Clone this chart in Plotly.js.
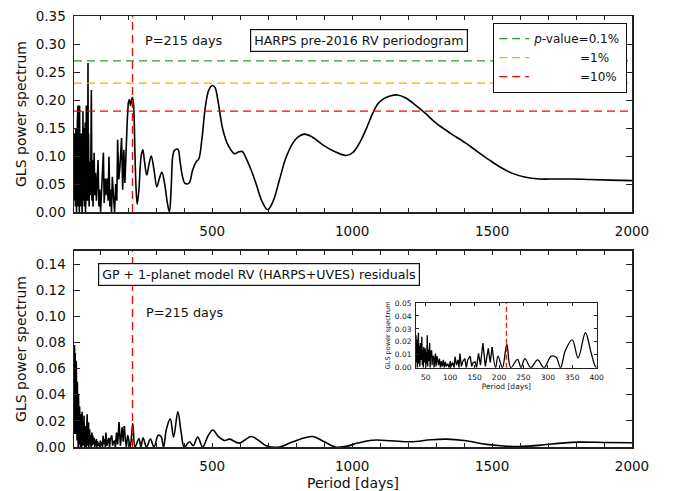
<!DOCTYPE html>
<html>
<head>
<meta charset="utf-8">
<script src="https://cdn.plot.ly/plotly-3.0.1.min.js"></script>
<style>html,body{margin:0;padding:0;background:#fff}#chart{width:673px;height:491px}</style>
</head>
<body>
<div id="chart"></div>
<script>
// ---- data ----
const periodTop = [6,7,8,9,10,11,12,13,14,15,16,17,18,19,20,21,22,23,24,25,26,27,28,29,30,31,32,33,34,35,36,37,38,39,40,41,42,43,44,45,46,47,48,49,50,51,52,53,54,55,56,57,58,
  60,62,64,66,68,70,72,74,76,78,80,83,86,89,92,95,98,101,104,108,111,114,117,120,124,128,131,134,137,140,143,147,151,155,159,162,166,170,176,180,184,188,192,196,200,204,208,211,215,219,224,228,232,238,246,252,258,266,274,282,292,302,311,320,330,340,347,353,359,365,377,385,393,401,410,419,430,443,452,463,476,488,500,510,520,538,558,580,593,607,622,639,657,677,698,718,740,762,788,807,829,857,895,937,978,1002,1026,1050,1074,1090,1109,1135,1163,1190,1216,1260,1299,1350,1406,1450,1490,1530,1573,1620,1669,1730,1788,1850,1920,2000];
const powerTop = [0.10,0.02,0.14,0.02,0.13,0.01,0.15,0.03,0.09,0.0,0.12,0.02,0.16,0.04,0.19,0.01,0.11,0.05,0.14,0.0,0.19,0.03,0.12,0.06,0.09,0.01,0.14,0.04,0.10,0.0,0.13,0.05,0.18,0.02,0.11,0.06,0.15,0.01,0.09,0.04,0.16,0.0,0.12,0.03,0.19,0.05,0.10,0.02,0.08,0.04,0.266,0.02,0.14,
  0.01,0.09,0.03,0.07,0.218,0.02,0.093,0.01,0.06,0.106,0.03,0.07,0.02,0.052,0.093,0.01,0.04,0.0,0.03,0.08,0.106,0.016,0.06,0.03,0.06,0.02,0.099,0.01,0.04,0.0,0.063,0.028,0.0,0.05,0.02,0.129,0.058,0.08,0.132,0.04,0.111,0.052,0.117,0.16,0.195,0.201,0.19,0.198,0.205,0.19,0.1,0.04,0.014,0.04,0.1,0.111,0.09,0.066,0.085,0.1,0.075,0.045,0.06,0.071,0.05,0.015,0.0,0.04,0.1,0.11,0.112,0.09,0.065,0.052,0.05,0.053,0.075,0.09,0.095,0.13,0.19,0.218,0.226,0.222,0.2,0.147,0.118,0.104,0.107,0.108,0.095,0.075,0.05,0.02,0.004,0.02,0.057,0.095,0.123,0.134,0.139,0.134,0.12,0.108,0.101,0.106,0.123,0.148,0.177,0.192,0.201,0.207,0.209,0.204,0.195,0.177,0.159,0.141,0.123,0.107,0.093,0.08,0.069,0.062,0.059,0.059,0.059,0.058,0.057,0.056];

const periodRes = [6,7,8,9,10,11,12,13,14,15,16,17,18,19,20,21,22,23,24,25,26,27,28,29,30,31,32,33,34,35,36,37,38,39,40,41,42,43,44,45,46,47,48,49,50,51,52,53,54,55,56,57,58,59,60,
  62,63,64,66,67,68,70,71,73,76,78,80,82,84,86,88,90,92,95,98,100,102,105,108,110,113,116,118,120,123,126,130,133,136,141,144,147,151,154,158,162,167,172,178,182,186,193,198,207,216,224,238,245,253,265,279,292,307,317,326,336,350,362,377,389,400,419,432,448,466,484,502,522,544,562,597,639,666,693,740,788,859,900,940,980,1020,1073,1140,1210,1280,1336,1400,1480,1540,1597,1680,1750,1811,1900,2000];
const powerRes = [0.074,0.01,0.078,0.02,0.072,0.03,0.07,0.01,0.066,0.02,0.055,0.005,0.05,0.015,0.045,0.0,0.04,0.01,0.034,0.002,0.031,0.008,0.029,0.0,0.025,0.004,0.0215,0.0,0.02,0.027,0.003,0.017,0.001,0.019,0.006,0.012,0.024,0.002,0.014,0.0,0.016,0.004,0.011,0.015,0.0,0.012,0.003,0.025,0.001,0.014,0.005,0.01,0.019,0.0,0.012,
  0.0135,0.002,0.009,0.009,0.0,0.006,0.011,0.001,0.009,0.002,0.007,0.0,0.005,0.001,0.006,0.0,0.0045,0.001,0.003,0.0,0.005,0.001,0.004,0.0,0.0085,0.002,0.006,0.0,0.011,0.001,0.005,0.007,0.0,0.006,0.009,0.001,0.004,0.0045,0.0,0.011,0.002,0.019,0.001,0.015,0.004,0.016,0.0,0.009,0.0,0.018,0.0,0.0065,0.0,0.007,0.0,0.006,0.0,0.009,0.008,0.0,0.0135,0.0215,0.0075,0.027,0.011,0.0,0.004,0.001,0.0077,0.0,0.008,0.013,0.008,0.005,0.006,0.003,0.008,0.005,0.001,0.0,0.004,0.008,0.004,0.0,0.0005,0.003,0.0052,0.0048,0.004,0.0055,0.006,0.005,0.002,0.0008,0.0004,0.0015,0.003,0.0037,0.0035,0.0033];

const fapLevels = [0.27, 0.23, 0.18];
const pad = '\u00A0'.repeat(12);
const fapNames = ["<i>p</i>-value=0.1%", pad + "=1%", pad + "=10%"];
const fapColors = ["#2e9a2e", "#ffa500", "#ff0000"];
const planetPeriod = 215;
const xRange = [6, 2000];
const insetXRange = [30, 400];
const topYRange = [0, 0.35];
const resYRange = [0, 0.15];
const insetYRange = [0, 0.05];
const smoothFromTop = 204;   // dense (jagged) part below this period, smooth above
const smoothFromRes = 186;
const majorTicks = [];
for (let v = 100; v <= 2000; v += 100) majorTicks.push(v);

// split a series into dense (linear) and smooth (spline) parts
function split(px, py, from) {
  const k = px.findIndex(v => v >= from);
  return {dense: [px.slice(0, k + 1), py.slice(0, k + 1)], smooth: [px.slice(k), py.slice(k)]};
}
const topParts = split(periodTop, powerTop, smoothFromTop);
const resParts = split(periodRes, powerRes, smoothFromRes);

// ---- traces ----
const traces = [];
function curve(parts, xa, ya, w) {
  traces.push({x: parts.dense[0], y: parts.dense[1], xaxis: xa, yaxis: ya, mode: 'lines',
    line: {color: 'black', width: w}, showlegend: false});
  traces.push({x: parts.smooth[0], y: parts.smooth[1], xaxis: xa, yaxis: ya, mode: 'lines',
    line: {color: 'black', width: w, shape: 'spline', smoothing: 1}, showlegend: false});
}
curve(topParts, 'x', 'y', 1.6);
fapLevels.forEach((lv, i) => {
  traces.push({x: xRange, y: [lv, lv], xaxis: 'x', yaxis: 'y', mode: 'lines', name: fapNames[i],
    line: {color: fapColors[i], width: 1.3, dash: '8px,5px'}, showlegend: true});
});
traces.push({x: [planetPeriod, planetPeriod], y: topYRange, xaxis: 'x', yaxis: 'y', mode: 'lines',
  line: {color: '#ff0000', width: 1.3, dash: '8px,5px'}, showlegend: false});

curve(resParts, 'x2', 'y2', 1.6);
traces.push({x: [planetPeriod, planetPeriod], y: resYRange, xaxis: 'x2', yaxis: 'y2', mode: 'lines',
  line: {color: '#ff0000', width: 1.3, dash: '8px,5px'}, showlegend: false});

curve(resParts, 'x3', 'y3', 1.3);
traces.push({x: [planetPeriod, planetPeriod], y: insetYRange, xaxis: 'x3', yaxis: 'y3', mode: 'lines',
  line: {color: '#ff0000', width: 1.2, dash: '5px,3px'}, showlegend: false});

// ---- layout ----
const F = 'DejaVu Sans, sans-serif';
const frame = {showline: true, linecolor: '#222', linewidth: 1.5, mirror: 'ticks', ticks: 'inside',
  tickcolor: '#222', zeroline: false, showgrid: false};
const tickText = majorTicks.map(v => (v % 500 === 0 ? String(v) : ''));

const layout = {
  width: 673, height: 491,
  margin: {l: 74, r: 41, t: 16, b: 44},
  paper_bgcolor: 'white', plot_bgcolor: 'white',
  font: {family: F, size: 13.5, color: '#111'},
  showlegend: true,
  legend: {x: 0.991, xanchor: 'right', y: 0.984, yanchor: 'top', bgcolor: 'white',
    bordercolor: '#111', borderwidth: 1.2, font: {family: F, size: 12, color: '#111'},
    itemwidth: 30, tracegroupgap: 0},
  xaxis: Object.assign({}, frame, {domain: [0, 1], anchor: 'y', range: xRange,
    tickmode: 'array', tickvals: majorTicks, ticktext: tickText, ticklen: 4, ticklabelstandoff: 6}),
  yaxis: Object.assign({}, frame, {domain: [0.5452, 1], anchor: 'x', range: topYRange,
    dtick: 0.05, tickformat: '.2f', ticklen: 6, ticklabelstandoff: 4,
    title: {text: 'GLS power spectrum', standoff: 6, font: {size: 14}}}),
  xaxis2: Object.assign({}, frame, {domain: [0, 1], anchor: 'y2', range: xRange,
    tickmode: 'array', tickvals: majorTicks, ticktext: tickText, ticklen: 4, ticklabelstandoff: 6,
    title: {text: 'Period [days]', standoff: 6, font: {size: 14}}}),
  yaxis2: Object.assign({}, frame, {domain: [0, 0.4548], anchor: 'x2', range: resYRange,
    dtick: 0.02, tickformat: '.2f', ticklen: 6, ticklabelstandoff: 4,
    title: {text: 'GLS power spectrum', standoff: 6, font: {size: 14}}}),
  xaxis3: Object.assign({}, frame, {domain: [0.6129, 0.9367], anchor: 'y3', range: insetXRange,
    linewidth: 1, dtick: 50, tick0: 50, ticklen: 3, ticklabelstandoff: 2, tickfont: {size: 7.5},
    title: {text: 'Period [days]', standoff: 3, font: {size: 7.5}}}),
  yaxis3: Object.assign({}, frame, {domain: [0.184, 0.3341], anchor: 'x3', range: insetYRange,
    linewidth: 1, dtick: 0.01, tickformat: '.2f', ticklen: 3, ticklabelstandoff: 2, tickfont: {size: 7.5},
    title: {text: 'GLS power spectrum', standoff: 3, font: {size: 6.5}}}),
  annotations: [
    {xref: 'paper', yref: 'paper', x: 0.124, y: 0.942, xanchor: 'left', yanchor: 'middle',
      text: 'P=215 days', showarrow: false, font: {size: 12.8}},
    {xref: 'paper', yref: 'paper', x: 0.511, y: 0.942, xanchor: 'center', yanchor: 'middle',
      text: 'HARPS pre-2016 RV periodogram', showarrow: false, font: {size: 12.6},
      bordercolor: '#111', borderwidth: 1.2, borderpad: 3, bgcolor: 'white'},
    {xref: 'paper', yref: 'paper', x: 0.126, y: 0.311, xanchor: 'left', yanchor: 'middle',
      text: 'P=215 days', showarrow: false, font: {size: 12.8}},
    {xref: 'paper', yref: 'paper', x: 0.043, y: 0.401, xanchor: 'left', yanchor: 'middle',
      text: 'GP + 1-planet model RV (HARPS+UVES) residuals', showarrow: false, font: {size: 12.6},
      bordercolor: '#111', borderwidth: 1.2, borderpad: 3, bgcolor: 'white'}
  ]
};

Plotly.newPlot('chart', traces, layout, {staticPlot: true, displayModeBar: false});
</script>
</body>
</html>
